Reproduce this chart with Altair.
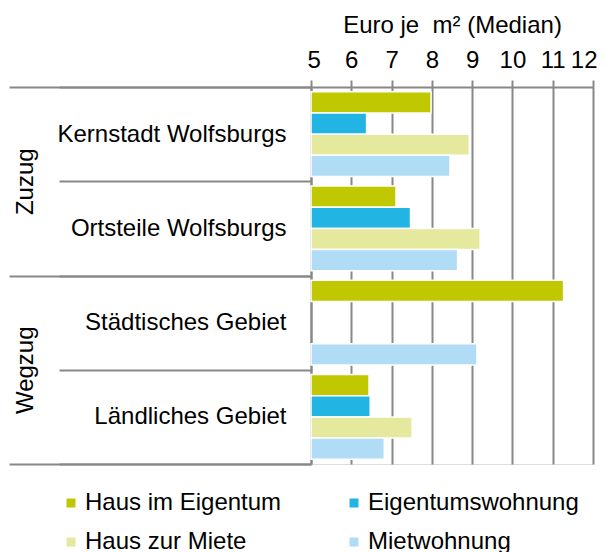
import altair as alt
import pandas as pd

regions = ["Kernstadt Wolfsburgs", "Ortsteile Wolfsburgs", "Städtisches Gebiet", "Ländliches Gebiet"]
directions = ["Zuzug", "Zuzug", "Wegzug", "Wegzug"]
series = ["Haus im Eigentum", "Eigentumswohnung", "Haus zur Miete", "Mietwohnung"]
colors = ["#BFC800", "#22B5E3", "#E5E99E", "#B0DCF5"]

haus_eigentum = [7.98, 7.11, 11.27, 6.44]
eigentumswohnung = [6.38, 7.47, None, 6.47]
haus_miete = [8.93, 9.20, None, 7.51]
mietwohnung = [8.45, 8.64, 9.12, 6.82]

x_ticks = [5, 6, 7, 8, 9, 10, 11, 12]

rows = []
for s, vals in zip(series, [haus_eigentum, eigentumswohnung, haus_miete, mietwohnung]):
    for r, d, v in zip(regions, directions, vals):
        if v is not None:
            rows.append({"region": r, "dir": d, "series": s, "value": v})
df = pd.DataFrame(rows)

FONT = "Liberation Sans"
GRAY = "#888888"
FS = 24

x_enc = alt.X(
    "value:Q",
    scale=alt.Scale(domain=[5, 12], zero=False, nice=False),
    axis=alt.Axis(
        orient="top", values=x_ticks, title="Euro je \u00a0m² (Median)",
        grid=True, gridColor=GRAY, gridWidth=2,
        labelFlush=True, labelFlushOffset=4,
        domainColor=GRAY, domainWidth=2, tickColor=GRAY, tickWidth=2, tickSize=7,
        labelFontSize=FS, labelPadding=8, labelColor="#000000", labelFont=FONT,
        titleFontSize=FS, titleFontWeight="normal", titlePadding=11,
        titleColor="#000000", titleFont=FONT,
    ),
)

bars = alt.Chart(df).mark_bar(stroke="white", strokeWidth=1.5).encode(
    x=x_enc,
    x2=alt.datum(5),
    y=alt.Y(
        "region:N",
        scale=alt.Scale(domain=regions, paddingInner=0, paddingOuter=0),
        axis=alt.Axis(
            orient="left", title=None, tickBand="extent", tickSize=252,
            tickColor=GRAY, tickWidth=2, domainColor=GRAY, domainWidth=2,
            labelFontSize=FS, labelPadding=-227, labelAlign="right",
            labelColor="#000000", labelLimit=400, labelFont=FONT,
        ),
    ),
    yOffset=alt.YOffset(
        "series:N",
        scale=alt.Scale(domain=series, paddingInner=0, paddingOuter=0.22),
    ),
    color=alt.Color(
        "series:N",
        scale=alt.Scale(domain=series, range=colors),
        legend=alt.Legend(
            orient="none", legendX=-252, legendY=404, columns=2,
            direction="horizontal",
            columnPadding=60, rowPadding=15, symbolType="square", symbolSize=81,
            symbolStrokeWidth=0, labelFontSize=FS, labelOffset=2, title=None,
            padding=0, labelColor="#000000", labelLimit=400, labelFont=FONT,
        ),
    ),
)

outer = alt.Chart(df).mark_tick(opacity=0).encode(
    y=alt.Y(
        "dir:N",
        scale=alt.Scale(domain=["Zuzug", "Wegzug"], paddingInner=0, paddingOuter=0),
        axis=alt.Axis(
            orient="left", title=None, tickBand="extent", tickSize=302,
            tickColor=GRAY, tickWidth=2, domain=False,
            labelFontSize=FS, labelPadding=-16, labelAngle=270,
            labelAlign="center", labelBaseline="middle", labelColor="#000000",
            labelFont=FONT,
        ),
    ),
)

chart = (
    alt.layer(bars, outer)
    .resolve_scale(y="independent")
    .properties(width=282, height=377,
                padding={"left": 0, "top": 5, "right": 0, "bottom": 0})
    .configure_view(fill="#F8F8F8", stroke=None)
    .configure(font=FONT)
)

chart.save("out.html", embed_options={"renderer": "svg", "actions": False})
